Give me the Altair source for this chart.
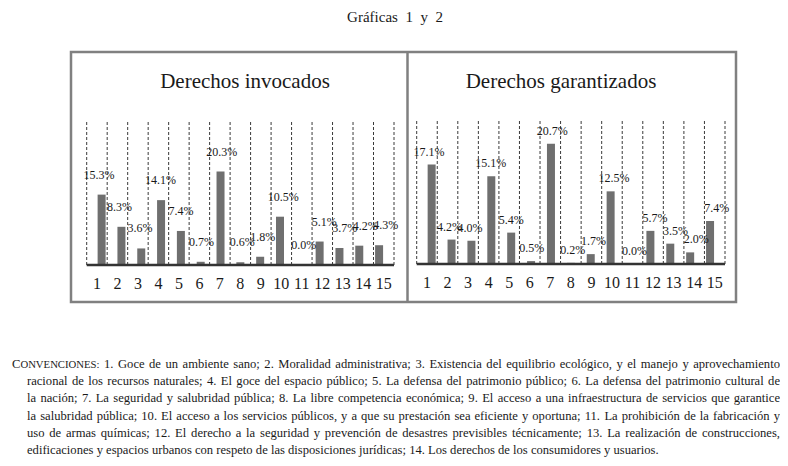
import altair as alt
import pandas as pd

# ---------------- data ----------------
categories = list(range(1, 16))
invocados = [15.3, 8.3, 3.6, 14.1, 7.4, 0.7, 20.3, 0.6, 1.8, 10.5, 0.0, 5.1, 3.7, 4.2, 4.3]
garantizados = [17.1, 4.2, 4.0, 15.1, 5.4, 0.5, 20.7, 0.2, 1.7, 12.5, 0.0, 5.7, 3.5, 2.0, 7.4]
main_title = "Gráficas\u00a0\u00a01\u00a0\u00a0y\u00a0\u00a02"
panel_titles = ["Derechos invocados", "Derechos garantizados"]
conv_lead_big = "C"
conv_lead_small = "ONVENCIONES:"
conv_lines = [
    "1. Goce de un ambiente sano; 2. Moralidad administrativa; 3. Existencia del equilibrio ecológico, y el manejo y aprovechamiento",
    "racional de los recursos naturales; 4. El goce del espacio público; 5. La defensa del patrimonio público; 6. La defensa del patrimonio cultural de",
    "la nación; 7. La seguridad y salubridad pública; 8. La libre competencia económica; 9. El acceso a una infraestructura de servicios que garantice",
    "la salubridad pública; 10. El acceso a los servicios públicos, y a que su prestación sea eficiente y oportuna; 11. La prohibición de la fabricación y",
    "uso de armas químicas; 12. El derecho a la seguridad y prevención de desastres previsibles técnicamente; 13. La realización de construcciones,",
    "edificaciones y espacios urbanos con respeto de las disposiciones jurídicas; 14. Los derechos de los consumidores y usuarios.",
]

FONT = "Liberation Serif"
INK = "#1a1a1a"
BAR = "#6f6f6f"
FRAME = "#808080"
W_CANVAS, H_CANVAS = 772, 450

one = pd.DataFrame({"a": [0]})


def panel(vals, x_range, top, y_range, label_dy):
    xs = alt.Scale(domain=[0, len(categories)], range=x_range)
    ys = alt.Scale(domain=[0, top], range=y_range)
    df = pd.DataFrame({
        "pos": [c - 0.5 for c in categories],
        "cat": [str(c) for c in categories],
        "val": vals,
        "lab": [f"{v:.1f}%" for v in vals],
        "zero": 0.0,
    })
    grid_df = pd.DataFrame({"b": [0] + categories, "y0": 0.0, "y1": top})
    base_df = pd.DataFrame({"x0": [0], "x1": [len(categories)], "y0": [0.0]})

    def X(f):
        return alt.X(f, scale=xs, axis=None)

    def Y(f):
        return alt.Y(f, scale=ys, axis=None)

    grid = alt.Chart(grid_df).mark_rule(
        color="#3a3a3a", strokeWidth=1, strokeDash=[3, 2]
    ).encode(x=X("b:Q"), y=Y("y0:Q"), y2="y1:Q")
    bars = alt.Chart(df).mark_bar(width=8, color=BAR, orient="vertical").encode(
        x=X("pos:Q"), y=Y("val:Q"), y2="zero:Q"
    )
    base = alt.Chart(base_df).mark_rule(color="#333333", strokeWidth=2.5).encode(
        x=X("x0:Q"), x2="x1:Q", y=Y("y0:Q")
    )
    labels = alt.Chart(df).mark_text(
        font=FONT, fontSize=12, color=INK, dx=2, dy=label_dy, baseline="middle"
    ).encode(x=X("pos:Q"), y=Y("val:Q"), text="lab:N")
    ticks = alt.Chart(df).mark_text(
        font=FONT, fontSize=16, color=INK, dy=19, baseline="middle"
    ).encode(x=X("pos:Q"), y=Y("zero:Q"), text="cat:N")
    return [grid, bars, base, labels, ticks]


# ---------- justified caption text (Times / Liberation Serif metrics) ----------
WID = {
    "a": 444, "b": 500, "c": 444, "d": 500, "e": 444, "f": 333, "g": 500, "h": 500,
    "i": 278, "j": 278, "k": 500, "l": 278, "m": 778, "n": 500, "o": 500, "p": 500,
    "q": 500, "r": 333, "s": 389, "t": 278, "u": 500, "v": 500, "w": 722, "x": 500,
    "y": 500, "z": 444, "á": 444, "é": 444, "í": 278, "ó": 500, "ú": 500,
    "C": 667, "D": 722, "E": 611, "G": 722, "I": 333, "L": 611, "M": 889, "N": 722,
    "O": 722, "S": 556, "V": 722, ".": 250, ",": 250, ";": 278, ":": 278, " ": 250,
}


def em(s):
    return sum(WID.get(ch, 500) for ch in s) / 1000.0


SC = 0.85
lead_em = em(conv_lead_big) + SC * em(conv_lead_small)
starts = [4] + [19] * (len(conv_lines) - 1)
end_x = 772
base_y, lead_step = 360, 17.2

# pick a font size that lets every justified line fit
fs = 12.6
for li, line in enumerate(conv_lines[:-1]):
    words = line.split(" ")
    wem = sum(em(w) for w in words) + (lead_em if li == 0 else 0)
    ngaps = len(words) - 1 + (1 if li == 0 else 0)
    fs = min(fs, (end_x - starts[li]) / (wem + ngaps * 0.2))

rows = []
for li, line in enumerate(conv_lines):
    words = line.split(" ")
    y = base_y + li * lead_step
    items = []
    if li == 0:
        items.append(("__lead__", lead_em * fs))
    for w in words:
        items.append((w, em(w) * fs))
    total = sum(wd for _, wd in items)
    ngaps = len(items) - 1
    if li < len(conv_lines) - 1:
        gap = (end_x - starts[li] - total) / ngaps
    else:
        gap = 0.25 * fs
    x = starts[li]
    for w, wd in items:
        if w == "__lead__":
            rows.append({"x": x, "y": y, "t": conv_lead_big, "fs": fs})
            rows.append({"x": x + em(conv_lead_big) * fs, "y": y, "t": conv_lead_small, "fs": fs * SC})
        else:
            rows.append({"x": x, "y": y, "t": w, "fs": fs})
        x += wd + gap
caption_df = pd.DataFrame(rows)

caption = alt.Chart(caption_df).mark_text(
    font=FONT, color=INK, align="left", baseline="alphabetic"
).encode(
    x=alt.X("x:Q", scale=None, axis=None),
    y=alt.Y("y:Q", scale=None, axis=None),
    size=alt.Size("fs:Q", scale=None, legend=None),
    text="t:N",
)

# ---------- frame and titles ----------
frame = alt.Chart(one).mark_rect(
    fill="transparent", stroke=FRAME, strokeWidth=2.5
).encode(x=alt.value(63), x2=alt.value(728), y=alt.value(44), y2=alt.value(294))
divider = alt.Chart(one).mark_rule(color=FRAME, strokeWidth=2.5).encode(
    x=alt.value(399.5), y=alt.value(44), y2=alt.value(294)
)
title = alt.Chart(one).mark_text(
    text=main_title, font=FONT, fontSize=15, color=INK, baseline="middle"
).encode(x=alt.value(387), y=alt.value(9))
t_left = alt.Chart(one).mark_text(
    text=panel_titles[0], font=FONT, fontSize=21, color=INK, baseline="middle"
).encode(x=alt.value(237), y=alt.value(74))
t_right = alt.Chart(one).mark_text(
    text=panel_titles[1], font=FONT, fontSize=21, color=INK, baseline="middle"
).encode(x=alt.value(553), y=alt.value(74))

layers = (
    [frame, divider, title, t_left, t_right]
    + panel(invocados, [78.7, 386], 31.3, [257, 113], -20)
    + panel(garantizados, [408.7, 717], 24.6, [256, 113], -13)
    + [caption]
)

chart = alt.layer(*layers).resolve_scale(
    x="independent", y="independent"
).properties(
    width=W_CANVAS,
    height=H_CANVAS,
    autosize=alt.AutoSizeParams(type="none"),
    padding=0,
    background="white",
).configure_view(stroke=None)

chart.save("out.html", embed_options={"renderer": "svg", "actions": False})
